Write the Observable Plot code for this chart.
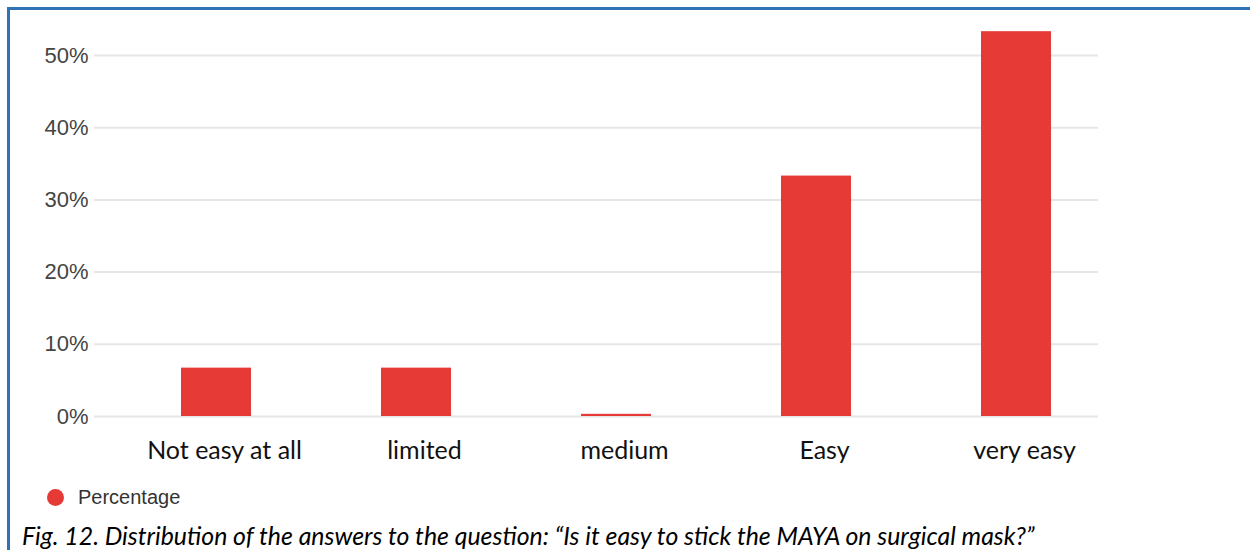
<!DOCTYPE html>
<html><head><meta charset="utf-8">
<script src="https://cdn.jsdelivr.net/npm/d3@7"></script>
<script src="https://cdn.jsdelivr.net/npm/@observablehq/plot@0.6"></script>
<style>
html,body{margin:0;padding:0;background:#fff;width:1250px;height:550px;overflow:hidden;position:relative;}
#frame{position:absolute;left:7px;top:7px;width:1300px;height:600px;border-top:3px solid #2e74b5;border-left:3px solid #2e74b5;}
#chart{position:absolute;left:0;top:0;}
#legend{position:absolute;left:47px;top:487px;height:20px;display:flex;align-items:center;font-family:"Liberation Sans",Arial,sans-serif;font-size:20px;line-height:1;color:#333;}
#legend .dot{width:17px;height:17px;border-radius:50%;background:#e53a35;margin-right:14px;}
#caption{position:absolute;left:22px;top:523px;font-family:Lato,sans-serif;font-style:italic;font-size:24px;line-height:1;color:#000;white-space:nowrap;}
</style></head>
<body>
<div id="frame"></div>
<div id="chart"></div>
<div id="legend"><span class="dot"></span><span>Percentage</span></div>
<div id="caption">Fig. 12. Distribution of the answers to the question: “Is it easy to stick the MAYA on surgical mask?”</div>
<script>
const categories = ["Not easy at all", "limited", "medium", "Easy", "very easy"];
const percentages = [6.7, 6.7, 0.3, 33.3, 53.3];
const yTicks = [0, 10, 20, 30, 40, 50];
const seriesName = "Percentage";

const data = categories.map((c, i) => ({category: c, value: percentages[i], series: seriesName}));

const chart = Plot.plot({
  width: 1250,
  height: 470,
  marginTop: 18.9,
  marginBottom: 54,
  marginLeft: 94,
  marginRight: 152,
  style: {background: "transparent", overflow: "visible"},
  x: {domain: categories, range: [114.75, 1117.25], paddingInner: 0.65, paddingOuter: 0.325},
  y: {domain: [0, 55]},
  marks: [
    Plot.gridY(yTicks, {stroke: "#e6e6e6", strokeOpacity: 1, strokeWidth: 2}),
    Plot.barY(data, {x: "category", y: "value", fill: "#e53a35"}),
    Plot.axisY(yTicks, {tickSize: 0, tickPadding: 6, tickFormat: d => d + "%", label: null,
      fontSize: 22, fontFamily: "Liberation Sans, Arial, sans-serif", fill: "#444"}),
    Plot.axisX({tickSize: 0, tickPadding: 25, label: null, dx: 8,
      fontSize: 25, fontFamily: "Lato, sans-serif", fill: "#111"})
  ]
});
document.getElementById("chart").appendChild(chart);

// fit caption to the reference width
const cap = document.getElementById("caption");
const target = 1013;
const w = cap.getBoundingClientRect().width;
cap.style.fontSize = (24 * target / w).toFixed(2) + "px";
</script>
</body></html>
